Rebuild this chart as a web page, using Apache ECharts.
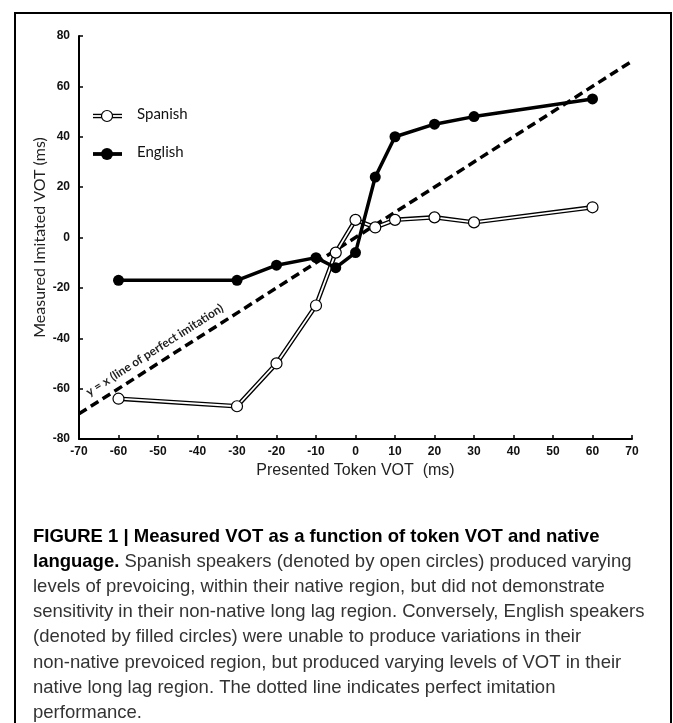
<!DOCTYPE html>
<html>
<head>
<meta charset="utf-8">
<script src="https://cdn.jsdelivr.net/npm/echarts@6/dist/echarts.min.js"></script>
<style>
html,body{margin:0;padding:0;background:#fff;}
#chart{width:673px;height:723px;}
</style>
</head>
<body>
<div id="chart"></div>
<script>
// Data
const presentedVOT = [-60, -30, -20, -10, -5, 0, 5, 10, 20, 30, 60];
const spanishVOT   = [-64, -67, -50, -27, -6, 7, 4, 7, 8, 6, 12];
const englishVOT   = [-17, -17, -11, -8, -12, -6, 24, 40, 45, 48, 55];
const perfectLine  = [[-70, -70], [70, 70]];
const xTicks = [-70, 70, 10];   // min, max, interval
const yTicks = [-80, 80, 20];
const captionLines = [
  [{b: 'FIGURE 1 | Measured VOT as a function of token VOT and native'}],
  [{b: 'language.'}, {r: ' Spanish speakers (denoted by open circles) produced varying'}],
  [{r: 'levels of prevoicing, within their native region, but did not demonstrate'}],
  [{r: 'sensitivity in their non-native long lag region. Conversely, English speakers'}],
  [{r: '(denoted by filled circles) were unable to produce variations in their'}],
  [{r: 'non-native prevoiced region, but produced varying levels of VOT in their'}],
  [{r: 'native long lag region. The dotted line indicates perfect imitation'}],
  [{r: 'performance.'}]
];

const pair = (xs, ys) => xs.map((x, i) => [x, ys[i]]);

const chart = echarts.init(document.getElementById('chart'));

const capFont = '"Liberation Sans Narrow", "Liberation Sans", Arial, sans-serif';
const captionGraphics = captionLines.map((parts, i) => {
  let text = parts.map(p => p.b ? '{b|' + p.b + '}' : '{r|' + p.r + '}').join('');
  return {
    type: 'text', left: 33, top: 527 + i * 25.2,
    style: {
      text: text,
      rich: {
        b: {fontFamily: capFont, fontWeight: 'bold', fontSize: 18.5, fill: '#000'},
        r: {fontFamily: capFont, fontSize: 18.5, fill: '#333'}
      }
    }
  };
});

const legendFont = 'Lato, "Open Sans", sans-serif';
const tickFont = '"Liberation Sans", Arial, sans-serif';

const option = {
  animation: false,
  backgroundColor: '#fff',
  grid: {left: 79, right: 41, top: 36, bottom: 284, containLabel: false},
  xAxis: {
    type: 'value', min: xTicks[0], max: xTicks[1], interval: xTicks[2],
    name: 'Presented Token VOT  (ms)', nameLocation: 'middle', nameGap: 24, nameMoveOverlap: false,
    nameTextStyle: {fontFamily: tickFont, fontSize: 16, color: '#222', verticalAlign: 'top'},
    axisLine: {onZero: false, lineStyle: {color: '#000', width: 2}},
    axisTick: {inside: true, length: 4, lineStyle: {color: '#000', width: 1.5}},
    axisLabel: {fontFamily: tickFont, fontWeight: 'bold', fontSize: 12, color: '#111', margin: 7},
    splitLine: {show: false}
  },
  yAxis: {
    type: 'value', min: yTicks[0], max: yTicks[1], interval: yTicks[2],
    name: 'Measured Imitated VOT (ms)', nameLocation: 'middle', nameGap: 31, nameRotate: 90, nameMoveOverlap: false,
    nameTextStyle: {fontFamily: legendFont, fontSize: 16, color: '#222'},
    axisLine: {onZero: false, lineStyle: {color: '#000', width: 2}},
    axisTick: {inside: true, length: 4, lineStyle: {color: '#000', width: 1.5}},
    axisLabel: {fontFamily: tickFont, fontWeight: 'bold', fontSize: 12, color: '#111', margin: 9},
    splitLine: {show: false}
  },
  series: [
    {
      name: 'perfect', type: 'line', data: perfectLine, symbol: 'none',
      lineStyle: {color: '#000', width: 3.5, type: [9, 5]}, z: 1,
      markLine: {
        silent: true, symbol: 'none',
        lineStyle: {color: 'rgba(0,0,0,0)', width: 1, type: 'solid'},
        label: {
          show: true, position: 'insideStartTop', distance: [18, 7],
          formatter: 'y = x (line of perfect imitation)',
          fontFamily: legendFont, fontWeight: 'bold', fontSize: 12, color: '#222'
        },
        data: [[{coord: perfectLine[0]}, {coord: perfectLine[1]}]]
      }
    },
    {
      name: 'SpanishOutline', type: 'line', data: pair(presentedVOT, spanishVOT),
      symbol: 'none', lineStyle: {color: '#000', width: 4.5}, z: 2
    },
    {
      name: 'Spanish', type: 'line', data: pair(presentedVOT, spanishVOT),
      symbol: 'circle', symbolSize: 11, lineStyle: {color: '#fff', width: 1.8},
      itemStyle: {color: '#fff', borderColor: '#000', borderWidth: 1.2}, z: 3
    },
    {
      name: 'English', type: 'line', data: pair(presentedVOT, englishVOT),
      symbol: 'circle', symbolSize: 11, lineStyle: {color: '#000', width: 3.5},
      itemStyle: {color: '#000'}, z: 4
    }
  ],
  graphic: [
    {type: 'rect', shape: {x: 15, y: 13, width: 656, height: 720}, style: {fill: 'none', stroke: '#000', lineWidth: 2}, z: 100},
    // legend: Spanish
    {type: 'line', shape: {x1: 93, y1: 116, x2: 122, y2: 116}, style: {stroke: '#000', lineWidth: 4.5}, z: 50},
    {type: 'line', shape: {x1: 93, y1: 116, x2: 122, y2: 116}, style: {stroke: '#fff', lineWidth: 1.8}, z: 51},
    {type: 'circle', shape: {cx: 107, cy: 116, r: 5.5}, style: {fill: '#fff', stroke: '#000', lineWidth: 1.2}, z: 52},
    {type: 'text', left: 137, top: 107, style: {text: 'Spanish', fontFamily: legendFont, fontSize: 15, fill: '#111'}, z: 52},
    // legend: English
    {type: 'line', shape: {x1: 93, y1: 154, x2: 122, y2: 154}, style: {stroke: '#000', lineWidth: 3.8}, z: 50},
    {type: 'circle', shape: {cx: 107, cy: 154, r: 6}, style: {fill: '#000'}, z: 52},
    {type: 'text', left: 137, top: 145, style: {text: 'English', fontFamily: legendFont, fontSize: 15, fill: '#111'}, z: 52}
  ].concat(captionGraphics)
};

chart.setOption(option);
</script>
</body>
</html>
